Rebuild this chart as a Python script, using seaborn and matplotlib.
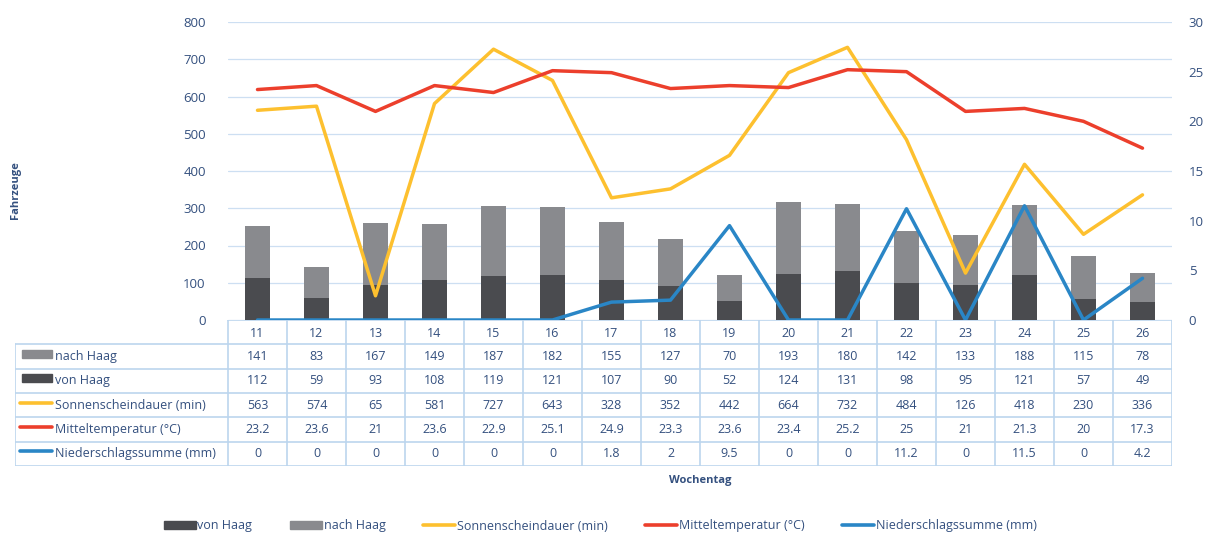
import numpy as np
import matplotlib
matplotlib.use("Agg")
import matplotlib.pyplot as plt
import seaborn as sns
from matplotlib.patches import Rectangle
from matplotlib.lines import Line2D

# Data
weeks = [11, 12, 13, 14, 15, 16, 17, 18, 19, 20, 21, 22, 23, 24, 25, 26]
nach_haag = [141, 83, 167, 149, 187, 182, 155, 127, 70, 193, 180, 142, 133, 188, 115, 78]
von_haag = [112, 59, 93, 108, 119, 121, 107, 90, 52, 124, 131, 98, 95, 121, 57, 49]
sonne = [563, 574, 65, 581, 727, 643, 328, 352, 442, 664, 732, 484, 126, 418, 230, 336]
temperatur = [23.2, 23.6, 21, 23.6, 22.9, 25.1, 24.9, 23.3, 23.6, 23.4, 25.2, 25, 21, 21.3, 20, 17.3]
niederschlag = [0, 0, 0, 0, 0, 0, 1.8, 2, 9.5, 0, 0, 11.2, 0, 11.5, 0, 4.2]

C_DARK = "#4a4b4f"
C_GREY = "#898a8e"
C_YELLOW = "#fdc02f"
C_RED = "#ec3f2c"
C_BLUE = "#2a86c6"
C_TEXT = "#34507f"
C_GRID = "#cddff2"

sns.set_style("white")
plt.rcParams["font.family"] = ["Open Sans", "DejaVu Sans"]

W, H = 1206, 535
fig = plt.figure(figsize=(W / 100, H / 100), dpi=100)

def px_axes(x0, y0, x1, y1):
    return fig.add_axes([x0 / W, 1 - y1 / H, (x1 - x0) / W, (y1 - y0) / H])

x = np.arange(len(weeks))
totals = [a + b for a, b in zip(von_haag, nach_haag)]

ax = px_axes(228, 22, 1172, 320)
sns.barplot(x=x, y=totals, color=C_GREY, width=0.41, saturation=1, linewidth=0, ax=ax)
sns.barplot(x=x, y=von_haag, color=C_DARK, width=0.41, saturation=1, linewidth=0, ax=ax)
sns.lineplot(x=x, y=sonne, color=C_YELLOW, linewidth=2.5, ax=ax)
ax.set_xlim(-0.5, len(weeks) - 0.5)
ax.set_ylim(0, 800)
ax.set_yticks(range(0, 801, 100))
ax.yaxis.grid(True, color=C_GRID, linewidth=0.9)
ax.set_axisbelow(True)
ax.set_xticks([])
ax.set_xlabel("")
ax.tick_params(axis="y", colors=C_TEXT, labelsize=9.5, length=0, pad=16)
for s in ax.spines.values():
    s.set_visible(False)
ax.set_ylabel("Fahrzeuge", color=C_TEXT, fontsize=8, fontweight="bold", labelpad=0)
ax.yaxis.set_label_coords(-207 / 944, (320 - 190) / 298)

ax2 = ax.twinx()
sns.lineplot(x=x, y=temperatur, color=C_RED, linewidth=2.5, ax=ax2)
sns.lineplot(x=x, y=niederschlag, color=C_BLUE, linewidth=2.5, ax=ax2)
ax2.set_ylim(0, 30)
ax2.set_yticks(range(0, 31, 5))
ax2.tick_params(axis="y", colors=C_TEXT, labelsize=9.5, length=0, pad=12)
ax2.grid(False)
for s in ax2.spines.values():
    s.set_visible(False)

# Data table under the chart
tab = px_axes(15, 320, 1172, 466)
unit = 944 / len(weeks)
left = -0.5 - 213 / unit
tab.set_xlim(left, len(weeks) - 0.5)
tab.set_ylim(6, 0)
tab.axis("off")
bc = "#bcd5ee"
# horizontal lines
tab.plot([-0.5, len(weeks) - 0.5], [0, 0], color=bc, lw=1.2)
for r in range(1, 7):
    tab.plot([left, len(weeks) - 0.5], [r, r], color=bc, lw=1.2)
# vertical lines
for c in range(len(weeks) + 1):
    tab.plot([c - 0.5, c - 0.5], [0, 6], color=bc, lw=1.2)
tab.plot([left, left], [1, 6], color=bc, lw=1.2)

for i, w in enumerate(weeks):
    tab.text(i, 0.55, str(w), ha="center", va="center", color=C_TEXT, fontsize=9)

rows = [
    ("nach Haag", nach_haag, "bar", C_GREY),
    ("von Haag", von_haag, "bar", C_DARK),
    ("Sonnenscheindauer (min)", sonne, "line", C_YELLOW),
    ("Mitteltemperatur (°C)", temperatur, "line", C_RED),
    ("Niederschlagssumme (mm)", niederschlag, "line", C_BLUE),
]
sw = 32 / unit
for r, (label, vals, kind, col) in enumerate(rows, start=1):
    yc = r + 0.5
    x0 = left + 5 / unit
    if kind == "bar":
        tab.add_patch(Rectangle((x0 + 2 / unit, yc - 0.28), sw - 2 / unit, 0.34,
                                color=col, clip_on=False))
    else:
        tab.plot([x0, x0 + sw], [yc - 0.1, yc - 0.1], color=col, lw=2.6,
                 solid_capstyle="round")
    tab.text(x0 + sw + 3 / unit, yc, label, ha="left", va="center",
             color=C_TEXT, fontsize=9)
    for i, v in enumerate(vals):
        tab.text(i, yc, f"{v:g}", ha="center", va="center", color=C_TEXT, fontsize=9)

fig.text(700 / W, 1 - 481 / H, "Wochentag", ha="center", va="center",
         color=C_TEXT, fontsize=8, fontweight="bold")

handles = [
    Rectangle((0, 0), 1, 1, color=C_DARK),
    Rectangle((0, 0), 1, 1, color=C_GREY),
    Line2D([], [], color=C_YELLOW, lw=2.6),
    Line2D([], [], color=C_RED, lw=2.6),
    Line2D([], [], color=C_BLUE, lw=2.6),
]
labels = ["von Haag", "nach Haag", "Sonnenscheindauer (min)",
          "Mitteltemperatur (°C)", "Niederschlagssumme (mm)"]
leg = fig.legend(handles, labels, loc="center", bbox_to_anchor=(600 / W, 1 - 526 / H),
                 ncol=5, frameon=False, fontsize=9, handlelength=2.6,
                 handleheight=0.6, columnspacing=3.0, handletextpad=0.1,
                 borderpad=0)
for t in leg.get_texts():
    t.set_color(C_TEXT)

fig.savefig("out.png", dpi=100)
